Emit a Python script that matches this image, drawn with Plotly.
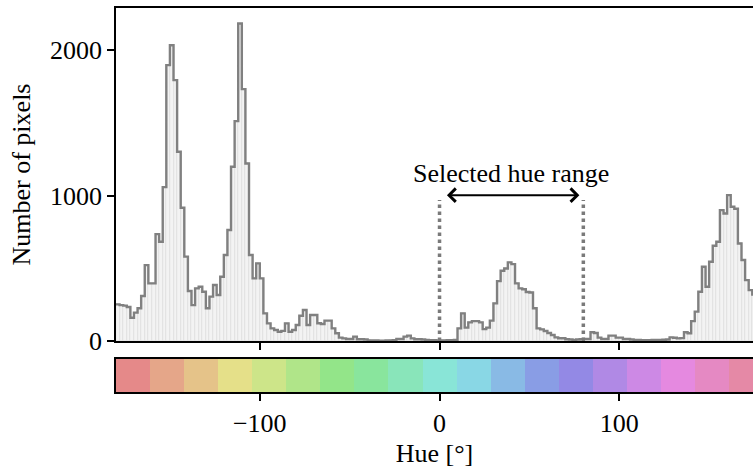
import colorsys
import numpy as np
import plotly.graph_objects as go

# ---- data -------------------------------------------------------------
bin_edges = list(range(-180, 181, 2))  # 2 degree bins
counts = [
    252, 247, 243, 234, 160, 195, 225, 309, 522, 396,
    396, 735, 683, 1058, 1897, 2034, 1794, 1301, 916, 580,
    344, 247, 362, 373, 339, 225, 305, 385, 316, 442,
    591, 763, 1198, 1512, 2183, 1732, 1221, 591, 431, 534,
    431, 190, 121, 87, 76, 64, 70, 121, 64, 76,
    110, 174, 213, 110, 179, 179, 122, 117, 140, 140,
    87, 53, 23, 18, 14, 14, 30, 12, 12, 10,
    4, 3, 3, 2, 2, 3, 4, 6, 14, 14,
    30, 37, 18, 12, 12, 10, 8, 6, 5, 4,
    4, 4, 5, 6, 8, 87, 190, 92, 128, 137,
    137, 128, 82, 92, 140, 259, 412, 483, 499, 541,
    529, 396, 362, 356, 337, 334, 225, 87, 80, 69,
    55, 41, 25, 19, 19, 12, 10, 8, 10, 12,
    14, 14, 60, 55, 23, 14, 14, 37, 37, 23,
    23, 14, 14, 10, 8, 7, 6, 6, 6, 7,
    8, 8, 9, 10, 25, 22, 18, 20, 60, 53,
    137, 202, 339, 511, 373, 545, 655, 683, 900, 877,
    1003, 923, 910, 671, 557, 419, 350, 320, 280, 250,
]
sel_lo, sel_hi = 0, 80
sel_line_top = 970
y_ticks = [0, 1000, 2000]
x_ticks = [-100, 0, 100]
n_hue_blocks = 19

# ---- derived ------------------------------------------------------------
centers = [(a + b) / 2 for a, b in zip(bin_edges[:-1], bin_edges[1:])]
step_y = counts + [counts[-1]]
blk_w = 360 / n_hue_blocks
blk_centers = [-180 + (i + 0.5) * blk_w for i in range(n_hue_blocks)]
blk_colors = []
for i in range(n_hue_blocks):
    r, g, b = colorsys.hsv_to_rgb(i / n_hue_blocks, 0.4, 0.9)
    blk_colors.append(f"rgb({int(r*255)},{int(g*255)},{int(b*255)})")

FONT = "Liberation Serif"
FS = 26
XR = [-180, 174.4]

fig = go.Figure()
fig.add_trace(go.Bar(x=centers, y=counts, width=2, marker=dict(color="#f3f3f3", line=dict(color="#dadada", width=0.6)),
                     xaxis="x", yaxis="y", hoverinfo="skip"))
fig.add_trace(go.Scatter(x=bin_edges, y=step_y, mode="lines", line=dict(shape="hv", color="#808080", width=2.4),
                         xaxis="x", yaxis="y", hoverinfo="skip"))
fig.add_trace(go.Bar(x=blk_centers, y=[1] * n_hue_blocks, width=blk_w, marker=dict(color=blk_colors, line=dict(width=0)),
                     xaxis="x2", yaxis="y2", hoverinfo="skip"))

for xv in (sel_lo, sel_hi):
    fig.add_trace(go.Scatter(x=[xv, xv], y=[0, sel_line_top], mode="lines", xaxis="x", yaxis="y",
                             line=dict(color="#7a7a7a", width=3.5, dash="dot"), hoverinfo="skip"))

fig.add_annotation(x=77.8, y=1003, ax=3.3, ay=1003, xref="x", yref="y", axref="x", ayref="y",
                   showarrow=True, arrowhead=4, startarrowhead=4, arrowside="end+start",
                   arrowwidth=2, arrowsize=1.3, startarrowsize=1.3, arrowcolor="black", text="")
fig.add_annotation(x=(sel_lo + sel_hi) / 2, y=1150, xref="x", yref="y", text="Selected hue range",
                   showarrow=False, font=dict(family=FONT, size=FS, color="black"), yanchor="middle")

axis_common = dict(showline=True, linecolor="black", linewidth=1.5, ticks="outside", ticklen=7, tickwidth=1.5,
                   tickcolor="black", showgrid=False, zeroline=False, tickfont=dict(family=FONT, size=FS, color="black"))

fig.update_layout(
    width=753, height=468,
    margin=dict(l=116, r=0, t=8, b=76),
    paper_bgcolor="white", plot_bgcolor="white",
    showlegend=False, bargap=0,
    font=dict(family=FONT, size=FS, color="black"),
    xaxis=dict(axis_common, range=XR, domain=[0, 1], anchor="y", mirror=True, tickvals=x_ticks, showticklabels=False),
    yaxis=dict(axis_common, range=[0, 2290], domain=[0.1328, 1], anchor="x", tickvals=y_ticks,
               title=dict(text="Number of pixels", font=dict(family=FONT, size=FS), standoff=12)),
    xaxis2=dict(axis_common, range=XR, domain=[0, 1], anchor="y2", mirror=True, tickvals=x_ticks, linewidth=2,
                title=dict(text="Hue [°]", font=dict(family=FONT, size=FS), standoff=8)),
    yaxis2=dict(range=[0, 1], domain=[0, 0.0859], anchor="x2", showline=True, linecolor="black", linewidth=2,
                showticklabels=False, ticks="", showgrid=False, zeroline=False),
)

fig.write_html("out.html", config={"displayModeBar": False},
               post_script="document.body.style.margin='0';document.body.style.overflow='hidden';")
